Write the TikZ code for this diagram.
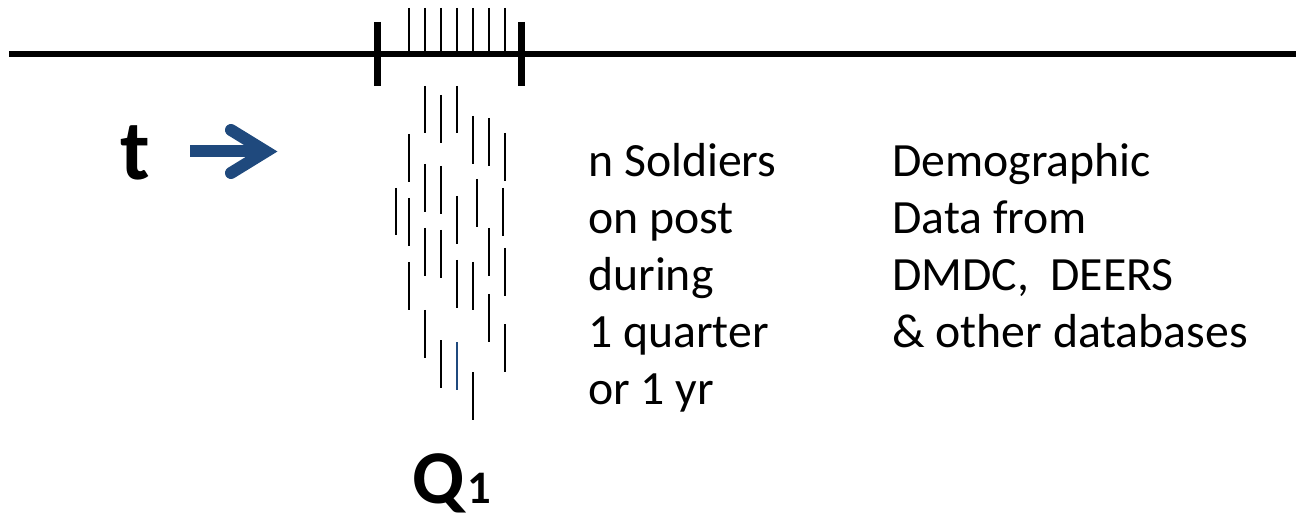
\documentclass[tikz,border=0pt]{standalone}
\usepackage{fontspec}
\setmainfont{Carlito}
\definecolor{darkblue}{HTML}{1F497D}
\begin{document}
\begin{tikzpicture}[x=0.75pt,y=-0.75pt,
  hairline/.style={line width=1.5pt,black},
  bigtick/.style={line width=5.25pt,black},
  caption/.style={anchor=base west,inner sep=0pt,align=left,
    font=\fontsize{35.8}{42.75}\selectfont},
  timeline/.style={line width=4.8pt,black}]
\useasboundingbox (0,0) rectangle (1297,524);

% time axis with the quarter bracket
\coordinate (axL) at (9,54);
\coordinate (axR) at (1296,54);
\draw[timeline] (axL) -- (axR);
\draw[bigtick] (377,22) -- (377,86);
\draw[bigtick] (521,22) -- (521,86);
\foreach \x in {409,425,441,457,473,489,505}
  \draw[hairline] (\x,8) -- (\x,54);

% individual soldiers present during the period
\foreach \x/\a/\b in {425/86/133,441/95/143,457/86/133,473/116/164,489/118/166,
  505/133/181,409/134/182,425/164/212,441/166/214,396/188/235,409/198/246,
  457/196/244,477/179/227,503/188/236,425/228/276,441/230/278,489/228/276,
  505/248/296,409/262/310,457/260/308,473/262/310,425/310/358,489/294/342,
  505/324/372,441/340/388,473/372/420}
  \draw[hairline] (\x,\a) -- (\x,\b);
\draw[hairline,darkblue] (457,342) -- (457,390);

% time label and direction arrow
\node[anchor=base west,inner sep=0pt,font=\fontsize{64}{66}\bfseries\selectfont] (t) at (120,180) {t};
\coordinate (arrS) at (190,151.5);
\coordinate (arrE) at (266,151.5);
\draw[darkblue,line width=9pt] (arrS) -- (arrE);
\draw[darkblue,line width=9pt,line cap=round,line join=miter]
  (231,130) -- (arrE) -- (231,173);

% period label
\node[anchor=base west,inner sep=0pt,font=\fontsize{57}{59}\bfseries\selectfont] (q) at (412,503)
  {Q\kern2pt{\fontsize{35}{37}\selectfont 1}};

% descriptions (anchored at the baseline of the last line)
\node[caption] (soldiers) at (588,404)
  {n Soldiers\\on post\\during\\1 quarter\\or 1 yr};
\node[caption] (demo) at (892,347)
  {Demographic\\Data from\\DMDC,\ \ DEERS\\\& other databases};
\end{tikzpicture}
\end{document}
